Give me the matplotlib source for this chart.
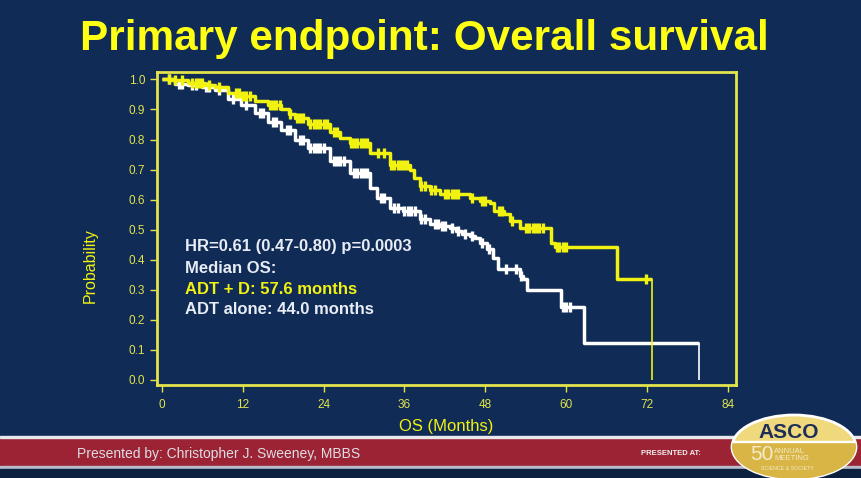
import numpy as np
import matplotlib.pyplot as plt
from matplotlib.patches import Rectangle, Ellipse

# Kaplan-Meier curves (months, survival probability)
months_d = [0, 1.5, 3.9, 6.4, 7.9, 9.8, 11.8, 13.8, 15.8, 17.7, 18.8, 19.7, 21.7, 24.9,
            26.5, 27.9, 30.9, 33.8, 36.8, 37.4, 38.3, 39.8, 41.2, 45.7, 47.2, 48.7,
            49.3, 50.8, 51.6, 53.1, 57.8, 58.4, 67.5, 72.7]
surv_d = [1.0, 0.997, 0.989, 0.983, 0.975, 0.956, 0.945, 0.928, 0.915, 0.903, 0.885,
          0.872, 0.851, 0.826, 0.805, 0.787, 0.754, 0.716, 0.699, 0.672, 0.644, 0.633,
          0.617, 0.605, 0.594, 0.589, 0.561, 0.552, 0.528, 0.504, 0.456, 0.443, 0.336,
          0.0]
cens_d = [1, 2, 3, 4.5, 5, 5.5, 6, 7, 8.5, 11, 11.5, 12, 12.5, 13, 16, 16.5, 17, 17.5,
          19, 20, 20.5, 21, 22, 22.5, 23, 23.5, 24, 24.5, 25.5, 26, 28, 28.5, 29,
          29.5, 30, 30.5, 32, 33, 34, 34.5, 35, 35.5, 36, 36.3, 38.5, 39, 40, 40.5,
          42, 42.5, 43, 43.5, 44, 46, 47.5, 48, 50, 50.5, 52, 54, 54.5, 55, 55.5,
          56, 56.5, 58.6, 59, 59.5, 60, 71.8]

months_a = [0, 2, 3.9, 5.9, 7.9, 9.8, 11.8, 13.8, 15.8, 17.7, 19.7, 21.7, 24.9, 27.9,
            30.9, 31.9, 33.8, 35.8, 38.3, 39.8, 41.2, 42.7, 43.7, 44.6, 45.7, 46.5,
            47.2, 48.2, 49.2, 49.9, 53.1, 53.6, 54.2, 59.2, 62.7, 79.7]
surv_a = [1.0, 0.986, 0.981, 0.975, 0.964, 0.936, 0.915, 0.887, 0.859, 0.832, 0.799,
          0.771, 0.727, 0.688, 0.638, 0.605, 0.572, 0.561, 0.534, 0.517, 0.512, 0.506,
          0.495, 0.484, 0.478, 0.472, 0.456, 0.434, 0.406, 0.368, 0.346, 0.336, 0.297,
          0.241, 0.123, 0.0]
cens_a = [1, 2.5, 3, 4.5, 5, 6.5, 7, 8.5, 10.5, 12.5, 14.5, 15, 16.5, 17, 18.5, 19,
          20.5, 21, 22, 22.5, 23, 23.5, 24, 25.5, 26, 26.5, 27, 28.5, 29, 29.5, 30,
          30.5, 32.5, 33, 34.5, 35, 36, 36.5, 37, 37.5, 38.5, 39, 40.5, 41, 41.5, 42,
          43, 44, 45, 46, 47.5, 48.5, 51, 52.5, 53.3, 59.5, 60, 60.5]

x_ticks = [0, 12, 24, 36, 48, 60, 72, 84]
y_ticks = [0.0, 0.1, 0.2, 0.3, 0.4, 0.5, 0.6, 0.7, 0.8, 0.9, 1.0]

navy = "#0F2B56"
frame_yellow = "#E2E44A"
curve_yellow = "#F2F210"
plt.rcParams["font.family"] = ["Liberation Sans", "DejaVu Sans"]

fig = plt.figure(figsize=(8.61, 4.78), dpi=100, facecolor=navy)
ax = fig.add_axes([0.1823, 0.1946, 0.6725, 0.6548], facecolor=navy)


def km(ax, t, s, cens, color):
    t = np.asarray(t)
    s = np.asarray(s)
    xs = np.r_[t[:-1], t[-1]]
    ys = np.r_[s[:-1], s[-2]]
    ax.step(xs, ys, where="post", color=color, lw=2.5, solid_capstyle="butt")
    ax.vlines(t[-1], s[-1], s[-2], color=color, lw=1.2)
    idx = np.searchsorted(t, cens, side="right") - 1
    ax.plot(cens, s[idx], ls="none", marker="|", ms=7, mew=2.4, color=color)


km(ax, months_a, surv_a, cens_a, "white")
km(ax, months_d, surv_d, cens_d, curve_yellow)

ax.set_xlim(-0.74, 85.2)
ax.set_ylim(-0.018, 1.025)
ax.set_xticks(x_ticks)
ax.set_yticks(y_ticks)
ax.set_yticklabels([f"{v:.1f}" for v in y_ticks])
for sp in ax.spines.values():
    sp.set_color(frame_yellow)
    sp.set_linewidth(2)
ax.tick_params(colors=frame_yellow, labelcolor=frame_yellow, labelsize=8.5,
               length=5, width=1, direction="out")
ax.tick_params(axis="x", pad=5)
ax.set_ylabel("Probability", color=curve_yellow, fontsize=11.5)
ax.yaxis.set_label_coords(-0.102, 0.38)
ax.set_xlabel("OS (Months)", color=curve_yellow, fontsize=12)
ax.xaxis.set_label_coords(0.5, -0.11)

txt = dict(fontsize=12, fontweight="bold", va="center", ha="left")
ax.text(3.4, 0.442, "HR=0.61 (0.47-0.80) p=0.0003", color="#E8ECF4", **txt)
ax.text(3.4, 0.369, "Median OS:", color="#E8ECF4", **txt)
ax.text(3.4, 0.300, "ADT + D: 57.6 months", color=curve_yellow, **txt)
ax.text(3.4, 0.233, "ADT alone: 44.0 months", color="#E8ECF4", **txt)

fig.text(0.493, 1 - 50 / 478, "Primary endpoint: Overall survival", color="#FFFF14",
         fontsize=30.4, fontweight="bold", ha="center", va="baseline")

# footer band
fig.patches.append(Rectangle((0, 0.025), 1, 0.061, transform=fig.transFigure,
                             color="#9B2334", zorder=0))
fig.patches.append(Rectangle((0, 0.0845), 1, 0.004, transform=fig.transFigure,
                             color="#E8E8EC", zorder=1))
fig.patches.append(Rectangle((0, 0.019), 1, 0.006, transform=fig.transFigure,
                             color="#B8BCC8", zorder=1))
fig.patches.append(Rectangle((0, 0), 1, 0.019, transform=fig.transFigure,
                             color="#0C2040", zorder=1))
fig.text(0.09, 0.050, "Presented by: Christopher J. Sweeney, MBBS", color="#DDDDE4",
         fontsize=10, ha="left", va="center")
fig.text(0.745, 0.052, "PRESENTED AT:", color="#F0F0F0", fontsize=5.5,
         fontweight="bold", ha="left", va="center")

# ASCO badge
badge = Ellipse((794 / 861, 1 - 447 / 478), 124 / 861, 64 / 478,
                transform=fig.transFigure, facecolor="#EFD97C",
                edgecolor="white", lw=2, zorder=3)
fig.patches.append(badge)
lower = Rectangle((0, 0), 1, 1 - 441 / 478, transform=fig.transFigure,
                  facecolor="#D8B545", edgecolor="none", zorder=3.5)
fig.patches.append(lower)
lower.set_clip_path(badge)
divider = Rectangle((0.84, 1 - 442 / 478), 0.16, 1.5 / 478,
                    transform=fig.transFigure, color="white", zorder=3.6)
fig.patches.append(divider)
divider.set_clip_path(badge)
fig.text(789 / 861, 1 - 433 / 478, "ASCO", color="#1D2E58", fontsize=15,
         fontweight="bold", ha="center", va="center", zorder=4)
fig.text(762 / 861, 1 - 455 / 478, "50", color="#F4ECC8", fontsize=15,
         ha="center", va="center", zorder=4)
fig.text(774 / 861, 1 - 455 / 478, "ANNUAL\nMEETING", color="#F4ECC8", fontsize=5.5,
         ha="left", va="center", linespacing=1.0, zorder=4)
fig.text(787 / 861, 1 - 469 / 478, "SCIENCE & SOCIETY", color="#F4ECC8", fontsize=3.8,
         ha="center", va="center", zorder=4)

fig.savefig("out.png", dpi=100, facecolor=navy)
